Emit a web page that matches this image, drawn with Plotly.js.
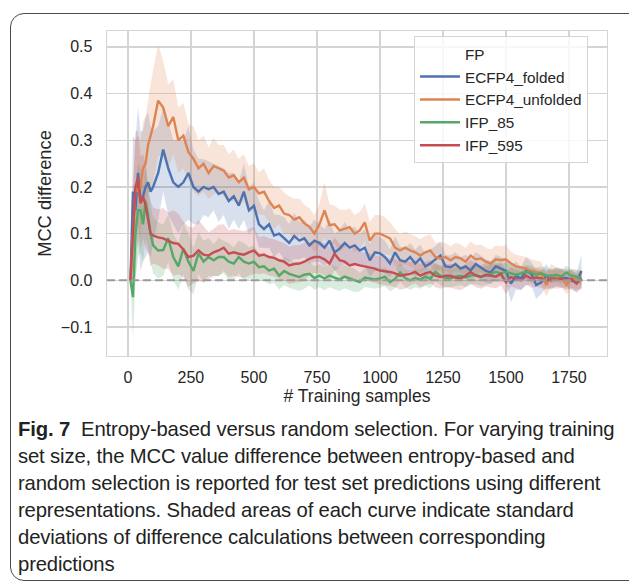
<!DOCTYPE html>
<html>
<head>
<meta charset="utf-8">
<script src="https://cdn.plot.ly/plotly-3.0.1.min.js"></script>
<style>
  html, body { margin: 0; padding: 0; background: #fff; width: 629px; height: 582px; overflow: hidden; }
  #frame { position: absolute; left: 10px; top: 13px; width: 640px; height: 568px; border: 1.5px solid #4a4a4a; border-radius: 14px; box-sizing: border-box; }
  #chart { position: absolute; left: 0; top: 0; width: 629px; height: 420px; }
  #caption { position: absolute; left: 18px; top: 416px; width: 611px; white-space: nowrap; font-family: "Liberation Sans", Arial, sans-serif; font-size: 20.3px; line-height: 27px; color: #222; letter-spacing: -0.15px; }
  #caption b { font-weight: bold; }
</style>
</head>
<body>
<div id="frame"></div>
<div id="chart"></div>
<div id="caption"><b>Fig. 7</b>&nbsp; Entropy-based versus random selection. For varying training<br>set size, the MCC value difference between entropy-based and<br>random selection is reported for test set predictions using different<br>representations. Shaded areas of each curve indicate standard<br>deviations of difference calculations between corresponding<br>predictions</div>
<script>
// Training sample counts
const samples = [10,20,30,40,50,60,70,80,90,100,
  120,140,160,180,200,220,240,260,280,300,
  320,340,360,380,400,420,440,460,480,500,
  520,540,560,580,600,620,640,660,680,700,
  720,740,760,780,800,820,840,860,880,900,
  920,940,960,980,1000,1020,1040,1060,1080,1100,
  1120,1140,1160,1180,1200,1220,1240,1260,1280,1300,
  1320,1340,1360,1380,1400,1420,1440,1460,1480,1500,
  1520,1540,1560,1580,1600,1620,1640,1660,1680,1700,
  1720,1740,1760,1780,1800];

const seriesNames = ["ECFP4_folded", "ECFP4_unfolded", "IFP_85", "IFP_595"];

const ecfp4FoldedMean = [0,0.19,0.15,0.23,0.17,0.18,0.2,0.21,0.19,0.2,
  0.23,0.28,0.24,0.21,0.2,0.21,0.23,0.2,0.19,0.2,
  0.195,0.2,0.185,0.19,0.17,0.18,0.16,0.19,0.15,0.16,
  0.12,0.11,0.12,0.096,0.1,0.09,0.08,0.095,0.085,0.09,
  0.075,0.085,0.08,0.07,0.085,0.06,0.068,0.08,0.07,0.075,
  0.064,0.07,0.043,0.06,0.058,0.05,0.036,0.06,0.043,0.04,
  0.05,0.036,0.047,0.03,0.036,0.045,0.053,0.03,0.028,0.035,
  0.025,0.03,0.021,0.035,0.028,0.02,0.017,0.03,0.025,0.02,
  -0.007,0.01,0.004,0.02,0.015,-0.01,-0.004,0.01,0,0.008,
  0.004,0.005,0,-0.004,0.02];
const ecfp4FoldedStd = [0,0.12,0.15,0.14,0.15,0.14,0.15,0.15,0.14,0.12,
  0.1,0.09,0.1,0.09,0.1,0.09,0.1,0.08,0.07,0.06,
  0.06,0.05,0.06,0.05,0.06,0.05,0.05,0.06,0.05,0.05,
  0.05,0.04,0.05,0.045,0.04,0.045,0.04,0.05,0.04,0.04,
  0.04,0.045,0.04,0.04,0.045,0.04,0.04,0.045,0.04,0.04,
  0.035,0.04,0.035,0.04,0.035,0.035,0.03,0.035,0.03,0.03,
  0.03,0.03,0.03,0.028,0.03,0.028,0.03,0.025,0.025,0.025,
  0.025,0.025,0.025,0.025,0.025,0.025,0.025,0.025,0.025,0.025,
  0.04,0.03,0.025,0.03,0.025,0.03,0.025,0.025,0.02,0.02,
  0.02,0.02,0.02,0.02,0.035];

const ecfp4UnfoldedMean = [0,0.1,0.2,0.19,0.2,0.24,0.25,0.29,0.31,0.33,
  0.385,0.37,0.33,0.35,0.3,0.31,0.275,0.26,0.24,0.25,
  0.23,0.245,0.24,0.235,0.22,0.225,0.21,0.22,0.195,0.2,
  0.186,0.19,0.17,0.155,0.16,0.143,0.14,0.13,0.135,0.122,
  0.115,0.1,0.12,0.15,0.118,0.12,0.107,0.11,0.114,0.1,
  0.107,0.124,0.085,0.1,0.1,0.095,0.09,0.07,0.064,0.07,
  0.064,0.06,0.053,0.06,0.064,0.05,0.047,0.05,0.043,0.05,
  0.047,0.04,0.053,0.045,0.047,0.04,0.036,0.045,0.043,0.045,
  0.036,0.03,0.028,0.025,0.02,0.018,0.015,-0.01,0.01,0.008,
  0.006,-0.01,0.004,0.002,0];
const ecfp4UnfoldedStd = [0,0.08,0.1,0.12,0.1,0.1,0.1,0.1,0.11,0.12,
  0.12,0.1,0.09,0.08,0.07,0.07,0.06,0.07,0.06,0.06,
  0.055,0.06,0.05,0.055,0.05,0.055,0.05,0.05,0.05,0.05,
  0.045,0.05,0.045,0.045,0.04,0.045,0.04,0.045,0.04,0.04,
  0.04,0.04,0.045,0.06,0.045,0.04,0.045,0.04,0.04,0.04,
  0.04,0.04,0.04,0.04,0.04,0.04,0.035,0.04,0.035,0.035,
  0.035,0.035,0.035,0.035,0.035,0.03,0.035,0.03,0.03,0.03,
  0.03,0.03,0.03,0.03,0.03,0.03,0.03,0.03,0.03,0.03,
  0.025,0.025,0.025,0.025,0.025,0.025,0.025,0.025,0.025,0.02,
  0.02,0.02,0.02,0.02,0.02];

const ifp85Mean = [0,-0.036,0.1,0.15,0.15,0.12,0.17,0.14,0.1,0.075,
  0.064,0.065,0.09,0.05,0.03,0.068,0.04,0.02,0.058,0.04,
  0.05,0.043,0.05,0.05,0.04,0.036,0.05,0.04,0.036,0.04,
  0.028,0.03,0.021,0.025,0.01,0.02,0.014,0.01,0.007,0.012,
  0.014,0.005,0.01,0.004,0.01,0.006,0.002,0.008,0.004,0,
  -0.004,0.006,0.004,0.002,0.004,0.008,-0.004,0.003,0.017,0.005,
  0,0.005,0.002,0.008,0.003,0.018,0.01,0.005,0.004,0.008,
  0.01,0.006,0.01,0.012,0.008,0.01,0.014,0.018,0.015,0.018,
  0.015,0.012,0.015,0.018,0.017,0.012,0.015,0.01,0.01,0.012,
  0.008,0.017,0.01,0.007,0.005];
const ifp85Std = [0,0.09,0.1,0.1,0.09,0.08,0.08,0.07,0.06,0.06,
  0.06,0.055,0.05,0.05,0.05,0.055,0.06,0.05,0.045,0.045,
  0.04,0.035,0.04,0.035,0.04,0.035,0.035,0.04,0.035,0.035,
  0.03,0.03,0.03,0.03,0.03,0.03,0.03,0.03,0.03,0.03,
  0.025,0.025,0.025,0.025,0.025,0.025,0.025,0.025,0.025,0.025,
  0.02,0.02,0.02,0.02,0.02,0.02,0.02,0.02,0.02,0.02,
  0.02,0.02,0.02,0.02,0.02,0.02,0.02,0.02,0.02,0.02,
  0.02,0.02,0.02,0.02,0.02,0.02,0.02,0.02,0.02,0.02,
  0.015,0.015,0.015,0.015,0.015,0.015,0.015,0.015,0.015,0.015,
  0.015,0.015,0.015,0.015,0.015];

const ifp595Mean = [0,0.1,0.2,0.22,0.165,0.18,0.16,0.13,0.1,0.096,
  0.092,0.09,0.085,0.08,0.078,0.066,0.05,0.053,0.064,0.055,
  0.053,0.06,0.064,0.07,0.057,0.06,0.057,0.055,0.06,0.064,
  0.053,0.055,0.05,0.048,0.043,0.04,0.032,0.035,0.036,0.04,
  0.046,0.05,0.05,0.045,0.036,0.057,0.043,0.04,0.032,0.035,
  0.032,0.03,0.028,0.025,0.021,0.02,0.018,0.015,0.01,0.012,
  0.014,0.018,0.01,0.015,0.018,0.01,0.007,0.01,0.01,0.006,
  0.004,0.01,0.018,0.01,0.007,0.012,0.01,0.008,0.014,-0.004,
  0.007,0.003,0,0.01,0.004,0.006,0.004,0,0.004,0.002,
  0.004,0,0.003,-0.007,0.004];
const ifp595Std = [0,0.1,0.12,0.1,0.1,0.09,0.09,0.07,0.07,0.06,
  0.06,0.065,0.06,0.07,0.065,0.06,0.065,0.06,0.065,0.06,
  0.05,0.05,0.055,0.05,0.05,0.05,0.05,0.05,0.05,0.05,
  0.04,0.04,0.04,0.04,0.04,0.04,0.04,0.04,0.04,0.04,
  0.035,0.035,0.035,0.035,0.035,0.035,0.035,0.035,0.035,0.035,
  0.03,0.03,0.03,0.03,0.03,0.03,0.03,0.03,0.03,0.03,
  0.025,0.025,0.025,0.025,0.025,0.025,0.025,0.025,0.025,0.025,
  0.025,0.025,0.025,0.025,0.025,0.025,0.025,0.025,0.025,0.025,
  0.02,0.02,0.02,0.02,0.02,0.02,0.02,0.02,0.02,0.02,
  0.02,0.02,0.02,0.02,0.02];

const yTicks = [-0.1, 0.0, 0.1, 0.2, 0.3, 0.4, 0.5];
const xTicks = [0, 250, 500, 750, 1000, 1250, 1500, 1750];

const colors = ["#4C72B0", "#DD8452", "#55A868", "#C44E52"];
const fills = ["rgba(76,114,176,0.22)", "rgba(221,132,82,0.22)", "rgba(85,168,104,0.22)", "rgba(196,78,82,0.22)"];
const means = [ecfp4FoldedMean, ecfp4UnfoldedMean, ifp85Mean, ifp595Mean];
const stds = [ecfp4FoldedStd, ecfp4UnfoldedStd, ifp85Std, ifp595Std];

const traces = [];
// legend header entry
traces.push({x: [null], y: [null], type: 'scatter', mode: 'lines', name: 'FP', line: {color: 'rgba(0,0,0,0)', width: 2}, hoverinfo: 'skip'});
for (let i = 0; i < 4; i++) {
  const up = means[i].map((m, k) => m + stds[i][k]);
  const lo = means[i].map((m, k) => m - stds[i][k]);
  traces.push({x: samples, y: up, type: 'scatter', mode: 'lines', line: {width: 0, color: fills[i]}, showlegend: false, hoverinfo: 'skip'});
  traces.push({x: samples, y: lo, type: 'scatter', mode: 'lines', line: {width: 0, color: fills[i]}, fill: 'tonexty', fillcolor: fills[i], showlegend: false, hoverinfo: 'skip'});
}
for (let i = 0; i < 4; i++) {
  traces.push({x: samples, y: means[i], type: 'scatter', mode: 'lines', name: seriesNames[i], line: {color: colors[i], width: 2.4}});
}

const fam = 'Liberation Sans, Arial, sans-serif';
const tickFont = {family: fam, size: 16, color: '#262626'};
const titleFont = {family: fam, size: 18.3, color: '#262626'};
const layout = {
  width: 629, height: 420,
  margin: {l: 107, r: 22, t: 31, b: 64},
  paper_bgcolor: 'rgba(0,0,0,0)',
  plot_bgcolor: '#fff',
  font: tickFont,
  showlegend: true,
  xaxis: {
    range: [-83, 1901], tickvals: xTicks, ticktext: xTicks.map(String),
    showgrid: true, gridcolor: '#d4d4d4', gridwidth: 1.4,
    zeroline: false, showline: true, linecolor: '#d4d4d4', linewidth: 1.4, mirror: true,
    ticks: '', tickfont: tickFont, ticklabelstandoff: 6,
    title: {text: '# Training samples', font: {family: fam, size: 17.5, color: '#262626'}, standoff: 4}
  },
  yaxis: {
    range: [-0.162, 0.534], tickvals: yTicks, tickformat: '.1f',
    showgrid: true, gridcolor: '#d4d4d4', gridwidth: 1.4,
    zeroline: false, showline: true, linecolor: '#d4d4d4', linewidth: 1.4, mirror: true,
    ticks: '', tickfont: tickFont, ticklabelstandoff: 10,
    title: {text: 'MCC difference', font: titleFont, standoff: 4}
  },
  legend: {
    x: 0.614, y: 0.984, xanchor: 'left', yanchor: 'top',
    traceorder: 'normal',
    bgcolor: 'rgba(255,255,255,0.8)', bordercolor: '#d4d4d4', borderwidth: 1,
    font: {family: fam, size: 15.3, color: '#262626'},
    tracegroupgap: 0, itemwidth: 40
  },
  shapes: [{type: 'line', xref: 'paper', x0: 0, x1: 1, yref: 'y', y0: 0, y1: 0, line: {color: '#9a9a9a', width: 2, dash: '8px,4px'}}]
};

Plotly.newPlot('chart', traces, layout, {displayModeBar: false, staticPlot: true});
</script>
</body>
</html>
